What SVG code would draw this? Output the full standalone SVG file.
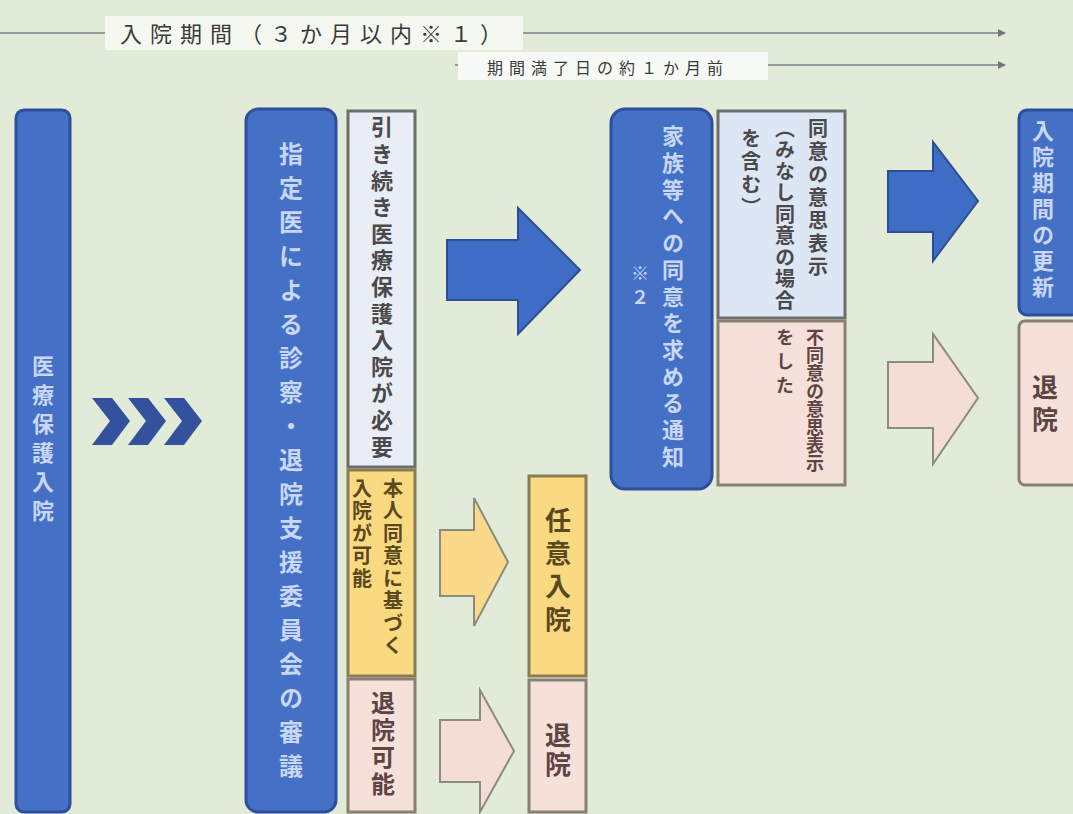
<svg xmlns="http://www.w3.org/2000/svg" width="1073" height="814" viewBox="0 0 1073 814">
<defs>
<style>
.bg{fill:#e1ebd7}
.v{writing-mode:vertical-rl;font-family:"Noto Sans CJK JP","Noto Sans",sans-serif;font-weight:bold}
.h{font-family:"Noto Sans CJK JP","Noto Sans",sans-serif;fill:#3a3a3a}
.blue{fill:#4470c6;stroke:#2e4f9c;stroke-width:3}
.bt{fill:#c9d7f7}
.gray{fill:#e9edf5;stroke:#6c6e6c;stroke-width:3}
.yel{fill:#f9da80;stroke:#8a7d55;stroke-width:3}
.pink{fill:#f6e0da;stroke:#8a8072;stroke-width:3}
.lblue{fill:#dde6f4;stroke:#6c6e6c;stroke-width:3}
.dt{fill:#4a4a4a}
.yt{fill:#5a4820}
.pt{fill:#5e4444}
.tl{stroke:#9a9a9a;stroke-width:2;fill:none}
.barrow{fill:#3f6cc4;stroke:#2b4f95;stroke-width:2}
.yarrow{fill:#fbd98a;stroke:#8c8c7c;stroke-width:2}
.parrow{fill:#f4ddd6;stroke:#8c8c7c;stroke-width:2}
.chev{fill:#34519e}
</style>
<marker id="ah" markerWidth="8" markerHeight="8" refX="7" refY="4" orient="auto" markerUnits="userSpaceOnUse">
<path d="M0,0 L8,4 L0,8 Z" fill="#777"/>
</marker>
</defs>
<rect class="bg" x="0" y="0" width="1073" height="814"/>

<g id="timeline">
<line class="tl" x1="0" y1="33" x2="1005" y2="33" marker-end="url(#ah)"/>
<line class="tl" x1="455" y1="65" x2="1005" y2="65" marker-end="url(#ah)"/>
<rect x="105" y="16" width="418" height="34" fill="#f5f8f1"/>
<text class="h" x="120" y="42" font-size="22" letter-spacing="8">入院期間（３か月以内※１）</text>
<rect x="458" y="52" width="310" height="28" fill="#f7f9f5"/>
<text class="h" x="487" y="74" font-size="16" letter-spacing="6">期間満了日の約１か月前</text>
</g>

<g id="connectors">
<g id="chevrons">
<path class="chev" d="M92,398 L112,398 L130,421 L112,445 L92,445 L110,421 Z"/>
<path class="chev" d="M128,398 L148,398 L166,421 L148,445 L128,445 L146,421 Z"/>
<path class="chev" d="M164,398 L184,398 L202,421 L184,445 L164,445 L182,421 Z"/>
</g>
<path id="arrow-blue-1" class="barrow" d="M447,240 L518,240 L518,208 L580,270 L518,334 L518,300 L447,300 Z"/>
<path id="arrow-yellow" class="yarrow" d="M440,530 L474,530 L474,498 L508,562 L474,626 L474,596 L440,596 Z"/>
<path id="arrow-pink-1" class="parrow" d="M440,720 L480,720 L480,690 L514,751 L480,812 L480,782 L440,782 Z"/>
<path id="arrow-blue-2" class="barrow" d="M888,171 L933,171 L933,142 L978,201 L933,261 L933,232 L888,232 Z"/>
<path id="arrow-pink-2" class="parrow" d="M888,362 L933,362 L933,334 L978,398 L933,464 L933,428 L888,428 Z"/>
</g>

<g id="node-iryohogo">
<rect class="blue" x="16" y="110" width="54" height="702" rx="8"/>
<text class="v bt" x="43" y="355" font-size="22" letter-spacing="7">医療保護入院</text>
</g>

<g id="node-shinsa">
<rect class="blue" x="246" y="109" width="90" height="703" rx="12"/>
<text class="v bt" x="291" y="142" font-size="24" letter-spacing="10">指定医による診察・退院支援委員会の審議</text>
</g>

<g id="node-hitsuyo">
<rect class="gray" x="348" y="111" width="67" height="356"/>
<text class="v dt" x="382" y="116" font-size="22" letter-spacing="4.6">引き続き医療保護入院が必要</text>
</g>

<g id="node-honnin">
<rect class="yel" x="348" y="470" width="67" height="206"/>
<text class="v yt" x="393" y="478" font-size="20" letter-spacing="2.5">本人同意に基づく</text>
<text class="v yt" x="362" y="478" font-size="20" letter-spacing="2.5">入院が可能</text>
</g>

<g id="node-taiin-kano">
<rect class="pink" x="348" y="679" width="67" height="133"/>
<text class="v pt" x="383" y="691" font-size="24" letter-spacing="3">退院可能</text>
</g>

<g id="node-nini">
<rect class="yel" x="529" y="476" width="57" height="200"/>
<text class="v yt" x="558" y="507" font-size="26" letter-spacing="7">任意入院</text>
</g>

<g id="node-taiin-1">
<rect class="pink" x="529" y="680" width="57" height="132"/>
<text class="v pt" x="558" y="722" font-size="26" letter-spacing="3">退院</text>
</g>

<g id="node-tsuchi">
<rect class="blue" x="611" y="109" width="101" height="380" rx="14"/>
<text class="v bt" x="673" y="125" font-size="22" letter-spacing="4.7">家族等への同意を求める通知</text>
<text class="v bt" x="640" y="264" font-size="18" letter-spacing="6">※２</text>
</g>

<g id="node-doi">
<rect class="lblue" x="718" y="111" width="127" height="207"/>
<text class="v dt" x="818" y="118" font-size="20" letter-spacing="3">同意の意思表示</text>
<text class="v dt" x="785" y="118" font-size="20" letter-spacing="1.5">（みなし同意の場合</text>
<text class="v dt" x="751" y="128" font-size="20" letter-spacing="3">を含む）</text>
</g>

<g id="node-fudoi">
<rect class="pink" x="718" y="321" width="127" height="164"/>
<text class="v pt" x="815" y="328" font-size="18" letter-spacing="0">不同意の意思表示</text>
<text class="v pt" x="785" y="328" font-size="18" letter-spacing="6">をした</text>
</g>

<g id="node-koshin">
<rect class="blue" x="1019" y="110" width="60" height="205" rx="8"/>
<text class="v bt" x="1043" y="120" font-size="22" letter-spacing="4">入院期間の更新</text>
</g>

<g id="node-taiin-2">
<rect class="pink" x="1019" y="321" width="60" height="164" rx="6"/>
<text class="v pt" x="1045" y="374" font-size="26" letter-spacing="6">退院</text>
</g>
</svg>
